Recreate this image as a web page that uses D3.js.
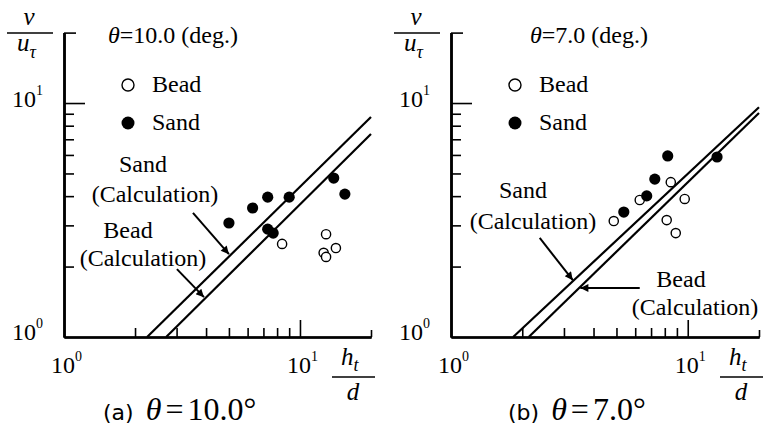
<!DOCTYPE html>
<html>
<head>
<meta charset="utf-8">
<script src="https://cdnjs.cloudflare.com/ajax/libs/d3/7.8.5/d3.min.js"></script>
<style>
body { margin: 0; background: #fff; }
</style>
</head>
<body>
<script>
var w = 771, h = 426;
var serif = "'Liberation Serif', 'DejaVu Serif', 'Times New Roman', Times, serif";

// ---- panel (a) theta = 10.0 deg ----
var beadX_a = [8.4, 12.9, 14.2, 12.6, 12.9];
var beadY_a = [2.50, 2.75, 2.40, 2.29, 2.20];
var sandX_a = [5.0, 6.3, 7.3, 9.0, 13.9, 15.5, 7.3, 7.7];
var sandY_a = [3.07, 3.56, 3.96, 3.96, 4.78, 4.08, 2.89, 2.78];
var sandCalcX_a = [2.25, 20], sandCalcY_a = [1, 8.71];
var beadCalcX_a = [2.71, 20], beadCalcY_a = [1, 7.37];
var sandArrowX_a = [3.52, 5.0], sandArrowY_a = [3.39, 2.26];
var beadArrowX_a = [3.01, 3.92], beadArrowY_a = [1.95, 1.48];

// ---- panel (b) theta = 7.0 deg ----
var beadX_b = [8.48, 6.27, 9.71, 4.87, 8.15, 8.90];
var beadY_b = [4.59, 3.85, 3.89, 3.13, 3.16, 2.78];
var sandX_b = [8.23, 7.26, 6.71, 5.37, 13.3];
var sandY_b = [5.94, 4.73, 4.01, 3.42, 5.88];
var sandCalcX_b = [1.83, 20], sandCalcY_b = [1, 9.6];
var beadCalcX_b = [2.13, 20], beadCalcY_b = [1, 9.06];
var sandArrowX_b = [2.37, 3.27], sandArrowY_b = [2.65, 1.75];
var beadArrowX_b = [6.27, 3.52], beadArrowY_b = [1.62, 1.62];

var minorTicks = [2, 3, 4, 5, 6, 7, 8, 9];
var majorTicks = [10];
var endTicks = [20];
var tickLabels = [{v: 1, base: "10", exp: "0"}, {v: 10, base: "10", exp: "1"}];

var svg = d3.select("body").append("svg")
  .attr("width", w)
  .attr("height", h)
  .attr("font-family", serif);

svg.append("rect").attr("width", w).attr("height", h).attr("fill", "#fff");

var defs = svg.append("defs");
defs.append("marker")
  .attr("id", "head")
  .attr("viewBox", "0 0 10 10")
  .attr("refX", 10).attr("refY", 5)
  .attr("markerWidth", 5).attr("markerHeight", 4)
  .attr("markerUnits", "strokeWidth")
  .attr("orient", "auto")
  .append("path")
  .attr("d", "M0,0L10,5L0,10Z")
  .attr("fill", "#000");

function txt(sel) {
  return sel.append("text").attr("font-family", serif).attr("fill", "#000");
}

function drawPanel(p) {
  var g = svg.append("g");
  var x = d3.scaleLog().domain([1, 20]).range([p.left, p.right]);
  var y = d3.scaleLog().domain([1, 20]).range([p.bottom, p.top]);

  // x axis (ticks point inward)
  var xa = g.append("g").attr("transform", "translate(0," + p.bottom + ")");
  xa.call(d3.axisBottom(x).tickValues(minorTicks).tickSize(-9).tickSizeOuter(0).tickFormat(""));
  var xa2 = g.append("g").attr("transform", "translate(0," + p.bottom + ")");
  xa2.call(d3.axisBottom(x).tickValues(majorTicks).tickSize(-17).tickSizeOuter(0).tickFormat(""));
  var xa3 = g.append("g").attr("transform", "translate(0," + p.bottom + ")");
  xa3.call(d3.axisBottom(x).tickValues(endTicks).tickSize(-7).tickSizeOuter(0).tickFormat(""));

  var ya = g.append("g").attr("transform", "translate(" + p.left + ",0)");
  ya.call(d3.axisLeft(y).tickValues(minorTicks).tickSize(-10).tickSizeOuter(0).tickFormat(""));
  var ya2 = g.append("g").attr("transform", "translate(" + p.left + ",0)");
  ya2.call(d3.axisLeft(y).tickValues(majorTicks).tickSize(-21).tickSizeOuter(0).tickFormat(""));
  var ya3 = g.append("g").attr("transform", "translate(" + p.left + ",0)");
  ya3.call(d3.axisLeft(y).tickValues(endTicks).tickSize(-12).tickSizeOuter(0).tickFormat(""));

  g.selectAll(".domain").attr("stroke", "#000").attr("stroke-width", 2.2);
  g.selectAll(".tick line").attr("stroke", "#000").attr("stroke-width", 1.6);

  // tick labels 10^0, 10^1
  tickLabels.forEach(function(d) {
    var t = txt(g).attr("x", x(d.v) - 13).attr("y", p.bottom + 36).attr("font-size", "24px");
    t.append("tspan").text(d.base);
    t.append("tspan").attr("dy", -12).attr("font-size", "14px").text(d.exp);
    var u = txt(g).attr("x", p.left - 52).attr("y", y(d.v) + (d.v === 1 ? 3 : 4)).attr("font-size", "24px");
    u.append("tspan").text(d.base);
    u.append("tspan").attr("dy", -12).attr("font-size", "14px").text(d.exp);
  });

  // calculation lines
  var line = d3.line().x(function(d) { return x(d[0]); }).y(function(d) { return y(d[1]); });
  [[p.sandCalcX, p.sandCalcY], [p.beadCalcX, p.beadCalcY]].forEach(function(s) {
    g.append("path")
      .attr("d", line(d3.zip(s[0], s[1])))
      .attr("fill", "none")
      .attr("stroke", "#000")
      .attr("stroke-width", 2.2);
  });

  // arrows
  [[p.sandArrowX, p.sandArrowY], [p.beadArrowX, p.beadArrowY]].forEach(function(s) {
    g.append("line")
      .attr("x1", x(s[0][0])).attr("y1", y(s[1][0]))
      .attr("x2", x(s[0][1])).attr("y2", y(s[1][1]))
      .attr("stroke", "#000")
      .attr("stroke-width", 2)
      .attr("marker-end", "url(#head)");
  });

  // data points
  g.selectAll("circle.bead").data(d3.zip(p.beadX, p.beadY)).enter().append("circle")
    .attr("class", "bead")
    .attr("cx", function(d) { return x(d[0]); })
    .attr("cy", function(d) { return y(d[1]); })
    .attr("r", 4.6)
    .attr("fill", "#fff")
    .attr("stroke", "#000")
    .attr("stroke-width", 1.4);

  g.selectAll("circle.sand").data(d3.zip(p.sandX, p.sandY)).enter().append("circle")
    .attr("class", "sand")
    .attr("cx", function(d) { return x(d[0]); })
    .attr("cy", function(d) { return y(d[1]); })
    .attr("r", 5.6)
    .attr("fill", "#000");

  // title
  var tt = txt(g).attr("x", p.titleX).attr("y", 43).attr("font-size", "24px");
  tt.append("tspan").attr("font-style", "italic").text("\u03b8");
  tt.append("tspan").text(p.title);

  // legend
  g.append("circle").attr("cx", p.legX).attr("cy", 85).attr("r", 6)
    .attr("fill", "#fff").attr("stroke", "#000").attr("stroke-width", 1.4);
  txt(g).attr("x", p.legX + 24).attr("y", 92).attr("font-size", "24px").text("Bead");
  g.append("circle").attr("cx", p.legX).attr("cy", 123).attr("r", 6.5).attr("fill", "#000");
  txt(g).attr("x", p.legX + 24).attr("y", 130).attr("font-size", "24px").text("Sand");

  // annotations
  p.notes.forEach(function(n) {
    txt(g).attr("x", n[0]).attr("y", n[1])
      .attr("text-anchor", "middle").attr("font-size", "24px").text(n[2]);
  });

  // y axis label v / u_tau
  txt(g).attr("x", p.left - 35).attr("y", 25).attr("text-anchor", "middle")
    .attr("font-size", "25px").attr("font-style", "italic").text("v");
  g.append("line").attr("x1", p.left - 57).attr("x2", p.left - 11)
    .attr("y1", 33).attr("y2", 33).attr("stroke", "#000").attr("stroke-width", 1.6);
  var ut = txt(g).attr("x", p.left - 47).attr("y", 51)
    .attr("font-size", "25px").attr("font-style", "italic");
  ut.append("tspan").text("u");
  ut.append("tspan").attr("dy", 7).attr("font-size", "18px").text("\u03c4");

  // x axis label h_t / d
  var ht = txt(g).attr("x", p.right - 30).attr("y", 365)
    .attr("font-size", "25px").attr("font-style", "italic");
  ht.append("tspan").text("h");
  ht.append("tspan").attr("dy", 6).attr("font-size", "18px").text("t");
  g.append("line").attr("x1", p.right - 39).attr("x2", p.right + 4)
    .attr("y1", 377).attr("y2", 377).attr("stroke", "#000").attr("stroke-width", 1.6);
  txt(g).attr("x", p.right - 18).attr("y", 400).attr("text-anchor", "middle")
    .attr("font-size", "25px").attr("font-style", "italic").text("d");

  // caption
  var cap = txt(g).attr("x", p.capX).attr("y", 420);
  cap.append("tspan").attr("font-family", "'DejaVu Sans', sans-serif").attr("font-size", "22px").text(p.capTag);
  cap.append("tspan").attr("dx", 12).attr("font-size", "32px").attr("font-style", "italic").text("\u03b8");
  cap.append("tspan").attr("dx", 4).attr("font-size", "32px").text("=");
  cap.append("tspan").attr("dx", 4).attr("font-size", "32px").text(p.capVal);
}

drawPanel({
  left: 64, right: 371, bottom: 337, top: 32.6,
  beadX: beadX_a, beadY: beadY_a, sandX: sandX_a, sandY: sandY_a,
  sandCalcX: sandCalcX_a, sandCalcY: sandCalcY_a, beadCalcX: beadCalcX_a, beadCalcY: beadCalcY_a,
  sandArrowX: sandArrowX_a, sandArrowY: sandArrowY_a, beadArrowX: beadArrowX_a, beadArrowY: beadArrowY_a,
  title: "=10.0 (deg.)", titleX: 108, legX: 128,
  notes: [[143, 172, "Sand"], [155, 202, "(Calculation)"], [128, 238, "Bead"], [143, 266, "(Calculation)"]],
  capX: 103, capTag: "(a)", capVal: "10.0\u00b0"
});

drawPanel({
  left: 451, right: 759, bottom: 337, top: 32.6,
  beadX: beadX_b, beadY: beadY_b, sandX: sandX_b, sandY: sandY_b,
  sandCalcX: sandCalcX_b, sandCalcY: sandCalcY_b, beadCalcX: beadCalcX_b, beadCalcY: beadCalcY_b,
  sandArrowX: sandArrowX_b, sandArrowY: sandArrowY_b, beadArrowX: beadArrowX_b, beadArrowY: beadArrowY_b,
  title: "=7.0 (deg.)", titleX: 530, legX: 515,
  notes: [[523, 198, "Sand"], [533, 229, "(Calculation)"], [681, 287, "Bead"], [695, 315, "(Calculation)"]],
  capX: 508, capTag: "(b)", capVal: "7.0\u00b0"
});
</script>
</body>
</html>
